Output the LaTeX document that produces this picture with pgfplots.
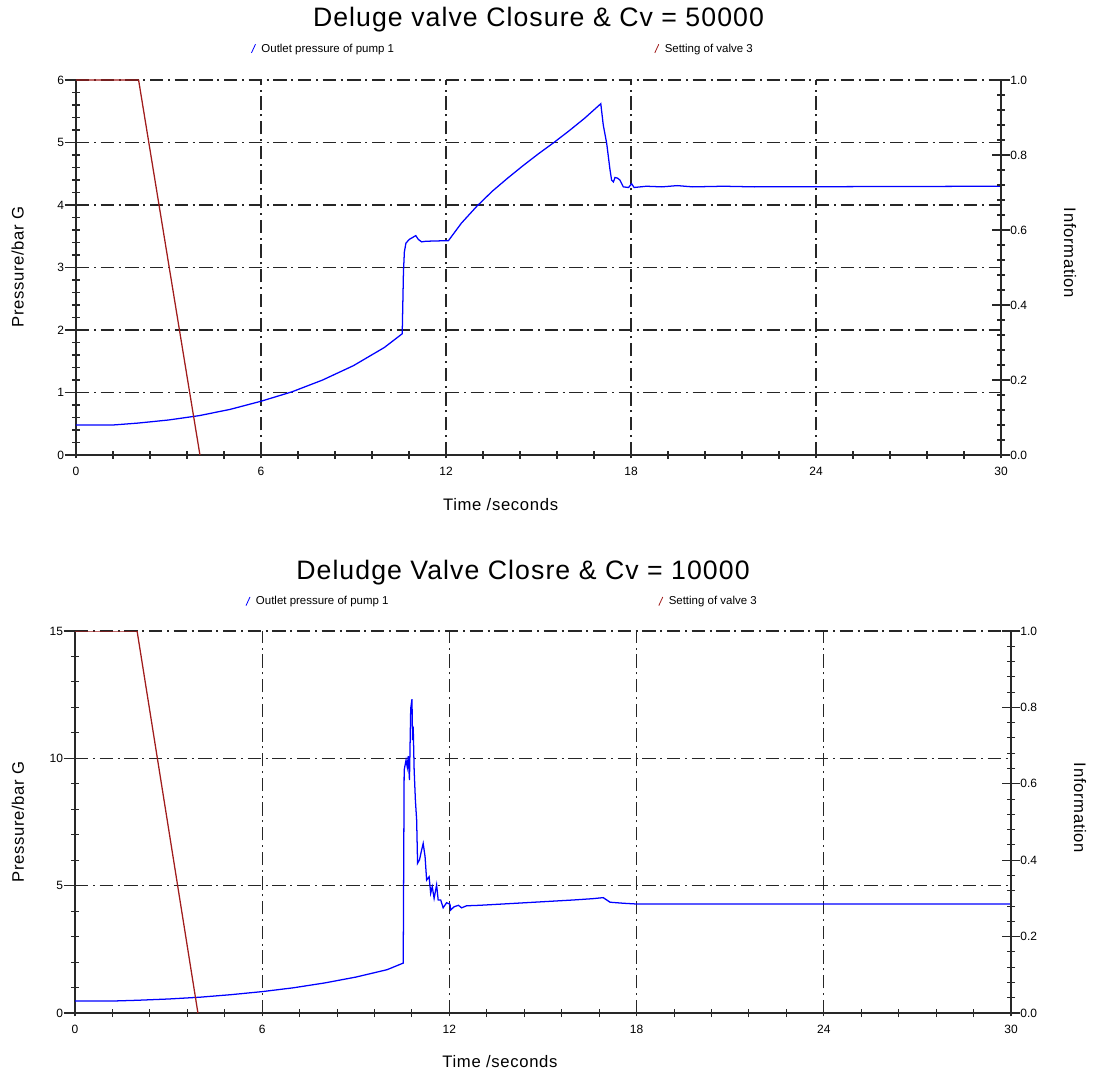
\documentclass[border=0pt]{standalone}
\usepackage{fontspec}
\setmainfont{Liberation Sans}
\newfontfamily\labelfont[LetterSpace=4]{Liberation Sans}
\newfontfamily\titlefont[LetterSpace=4]{Liberation Sans}
\usepackage{pgfplots}
\pgfplotsset{compat=1.18}

\definecolor{pumpblue}{RGB}{0,0,255}
\definecolor{valvered}{RGB}{160,28,28}
\definecolor{axgray}{RGB}{40,40,40}

\newcommand{\lblfont}{\labelfont\fontsize{12.5}{13}\selectfont}
\newcommand{\tickfont}{\fontsize{9}{10}\selectfont}
\newcommand{\legfont}{\fontsize{8.6}{9}\selectfont}

% 1 px of the reference = 0.75pt
\pgfplotsset{
  base/.style={
    scale only axis,
    xmin=0, xmax=30,
    axis line style={axgray, line width=0.8pt, -},
    tick style={axgray, line width=0.8pt},
    tick align=center,
    minor tick length=6pt,
    xticklabel style={font=\tickfont},
    yticklabel style={font=\tickfont},
    /pgf/number format/assume math mode=true,
    legend image code/.code={\draw[##1, line width=0.6pt] (0pt,-3pt) -- (3pt,3.5pt); \path (5pt,0pt);},
  },
  mainax/.style={
    base,
    axis x line*=bottom, axis y line*=left,
    xtick={0,6,12,18,24,30}, minor x tick num=4, minor y tick num=4,
    major tick length=11pt,
    every major x tick/.append style={yshift=3pt},
    every major y tick/.append style={xshift=-3pt},
    grid=major,
    major grid style={black!85, line width=0.8pt, dash pattern=on 10pt off 3.5pt on 1.5pt off 3.5pt},
    xlabel={Time /seconds}, ylabel={Pressure/bar G},
    title style={at={(0.5,1)}, anchor=center, font=\titlefont\fontsize{20}{22}\selectfont},
  },
  secax/.style={
    base,
    axis x line=none, axis y line*=right,
    ymin=0, ymax=1, ytick={0,0.2,0.4,0.6,0.8,1}, minor y tick num=4,
    major tick length=13pt,
    yticklabel style={xshift=-3pt, /pgf/number format/.cd, fixed, fixed zerofill, precision=1},
    ylabel={Information},
  },
}

\begin{document}
\begin{tikzpicture}
\useasboundingbox (0,0) rectangle (820.5pt,803.25pt);

% ---------- top chart ----------
\begin{axis}[mainax,
  at={(57pt,462pt)}, anchor=south west,
  width=693.75pt, height=281.25pt,
  ymin=0, ymax=6, ytick={0,1,2,3,4,5,6},
  title={Deluge valve Closure \& Cv = 50000},
  title style={yshift=39pt},
  every axis x label/.style={at={(axis description cs:0.459,-0.133)}, anchor=center, font=\lblfont},
  every axis y label/.style={at={(axis description cs:-0.063,0.501)}, anchor=center, rotate=90, font=\lblfont},
  legend style={draw=none, fill=none, inner sep=0pt, anchor=west, font=\legfont,
    at={(axis description cs:0.189,1.083)}},
]
\addplot[pumpblue, line width=0.95pt] coordinates {
 (0,0.48) (1.2,0.48) (2,0.51) (3,0.56) (4,0.63) (5,0.73) (6,0.86) (7,1.01)
 (8,1.20) (9,1.43) (10,1.72) (10.58,1.94) (10.62,2.93) (10.65,3.25) (10.70,3.39)
 (10.81,3.45) (11.02,3.51) (11.10,3.45) (11.21,3.41) (11.35,3.42) (12.08,3.43)
 (12.5,3.71) (13.0,3.98) (13.5,4.22) (14.0,4.43) (14.5,4.63) (15.0,4.82)
 (15.5,5.00) (16.0,5.19) (16.5,5.39) (17.02,5.62) (17.10,5.28) (17.21,4.99)
 (17.32,4.56) (17.37,4.40) (17.43,4.37) (17.48,4.44) (17.56,4.43) (17.64,4.40)
 (17.75,4.29) (17.92,4.28) (18.02,4.34) (18.10,4.28) (18.5,4.30) (19,4.29)
 (19.5,4.31) (20,4.29) (21,4.30) (22,4.29) (30,4.30)
};
\legend{Outlet pressure of pump 1}
\end{axis}
\begin{axis}[secax,
  at={(57pt,462pt)}, anchor=south west,
  width=693.75pt, height=281.25pt,
  every axis y label/.style={at={(axis description cs:1.0746,0.539)}, anchor=center, rotate=-90, font=\lblfont},
  legend style={draw=none, fill=none, inner sep=0pt, anchor=west, font=\legfont,
    at={(axis description cs:0.625,1.083)}},
]
\addplot[valvered, line width=0.95pt] coordinates {
 (0,1) (2.03,1) (3.62,0.2) (4.02,0)
};
\legend{Setting of valve 3}
\end{axis}

% ---------- bottom chart ----------
\begin{axis}[mainax,
  at={(56.25pt,43.5pt)}, anchor=south west,
  width=702pt, height=286.5pt,
  ymin=0, ymax=15, ytick={0,5,10,15},
  title={Deludge Valve Closre \& Cv = 10000},
  title style={yshift=38pt, xshift=-15pt},
  every axis x label/.style={at={(axis description cs:0.454,-0.128)}, anchor=center, font=\lblfont},
  every axis y label/.style={at={(axis description cs:-0.061,0.5)}, anchor=center, rotate=90, font=\lblfont},
  legend style={draw=none, fill=none, inner sep=0pt, anchor=west, font=\legfont,
    at={(axis description cs:0.182,1.077)}},
]
\addplot[pumpblue, line width=0.95pt] coordinates {
 (0,0.47) (1.2,0.47) (2,0.50) (3,0.55) (4,0.62) (5,0.72) (6,0.84) (7,0.99)
 (8,1.18) (9,1.41) (10,1.70) (10.52,1.96) (10.55,9.54) (10.61,9.93) (10.65,9.65)
 (10.68,10.09) (10.72,9.15) (10.76,11.96) (10.80,12.32) (10.82,10.72) (10.84,11.24)
 (10.87,9.54) (10.91,8.36) (10.95,7.58) (10.98,5.88) (11.04,6.01) (11.11,6.40)
 (11.16,6.66) (11.22,6.14) (11.27,5.22) (11.35,5.35) (11.40,4.70) (11.45,4.96)
 (11.51,4.50) (11.59,5.03) (11.64,4.44) (11.72,4.44) (11.80,4.13) (11.91,4.33)
 (12.02,4.27) (12.04,4.04) (12.15,4.17) (12.29,4.23) (12.39,4.13) (12.55,4.21)
 (12.98,4.23) (14,4.30) (15,4.37) (16,4.44) (16.6,4.49) (16.93,4.53) (17.15,4.35)
 (17.57,4.31) (18,4.28) (30,4.28)
};
\legend{Outlet pressure of pump 1}
\end{axis}
\begin{axis}[secax,
  at={(56.25pt,43.5pt)}, anchor=south west,
  width=702pt, height=286.5pt,
  every axis y label/.style={at={(axis description cs:1.0737,0.537)}, anchor=center, rotate=-90, font=\lblfont},
  legend style={draw=none, fill=none, inner sep=0pt, anchor=west, font=\legfont,
    at={(axis description cs:0.623,1.077)}},
]
\addplot[valvered, line width=0.95pt] coordinates {
 (0,1) (1.99,1) (3.94,0)
};
\legend{Setting of valve 3}
\end{axis}
\end{tikzpicture}
\end{document}
